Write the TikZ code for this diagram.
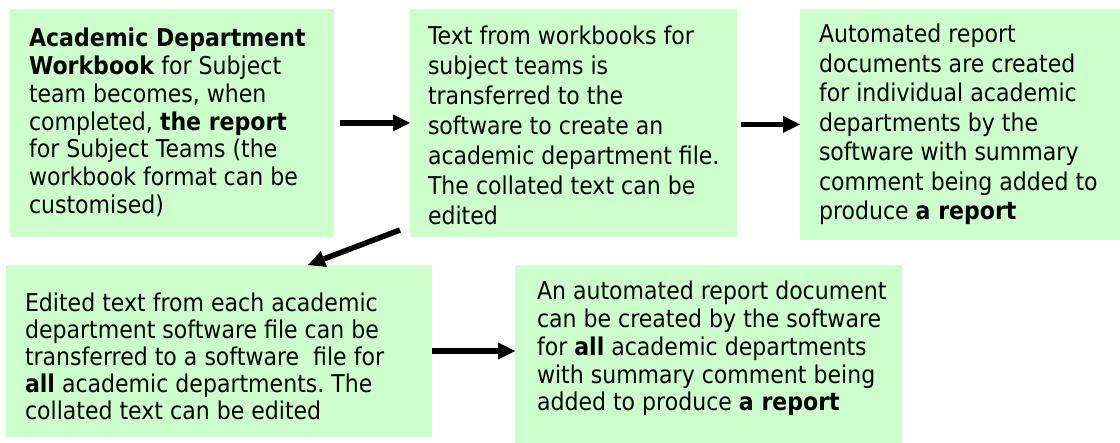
\documentclass[tikz,border=0pt]{standalone}
\usepackage{fontspec}
\setmainfont{DejaVu Sans}[FakeStretch=0.9]
\usetikzlibrary{arrows.meta,calc}
\definecolor{boxgreen}{RGB}{204,255,204}
\newcommand\fstrut{\rule{0pt}{22pt}}
\frenchspacing
\begin{document}
\begin{tikzpicture}[x=1pt,y=-1pt,
  gbox/.style={fill=boxgreen, draw=none, inner sep=0pt, outer sep=0pt, anchor=north west},
  txt/.style={inner sep=0pt, outer sep=0pt, anchor=north west, align=left, font=\fontsize{24.5}{27.7}\selectfont},
  wide/.style={font=\fontsize{24.5}{30}\selectfont},
  arr/.style={line width=5.5pt, -{Triangle[length=17pt,width=17pt,line width=0pt]}}]
\useasboundingbox (0,0) rectangle (1120,443);
% boxes
\node[gbox, minimum width=324pt, minimum height=228pt] (b1) at (10,9) {};
\node[gbox, minimum width=327pt, minimum height=228pt] (b2) at (410,9) {};
\node[gbox, minimum width=320pt, minimum height=231pt] (b3) at (800,9) {};
\node[gbox, minimum width=426pt, minimum height=172pt] (b4) at (6,265) {};
\node[gbox, minimum width=387pt, minimum height=178pt] (b5) at (515,265) {};
% texts
\node[txt] (t1) at (29,25) {\fstrut\textbf{Academic Department}\\\textbf{Workbook} for Subject\\team becomes, when\\completed, \textbf{the report}\\for Subject Teams (the\\workbook format can be\\customised)};
\node[txt, wide] (t2) at (428,23) {\fstrut Text from workbooks for\\subject teams is\\transferred to the\\software to create an\\academic department file.\\The collated text can be\\edited};
\node[txt, font=\fontsize{24.5}{29.5}\selectfont] (t3) at (819,21) {\fstrut Automated report\\documents are created\\for individual academic\\departments by the\\software with summary\\comment being added to\\produce \textbf{a report}};
\node[txt, font=\fontsize{24.5}{27}\selectfont] (t4) at (25,290) {\fstrut Edited text from each academic\\department software file can be\\transferred to a software~ file for\\\textbf{all} academic departments. The\\collated text can be edited};
\node[txt] (t5) at (537,278) {\fstrut An automated report document\\can be created by the software\\for \textbf{all} academic departments\\with summary comment being\\added to produce \textbf{a report}};
% connectors
\draw[arr, shorten <=6pt] (b1.east) -- (b2.west);
\draw[arr, shorten <=4pt] (b2.east |- b3.west) -- (b3.west);
\coordinate (d1) at ($(b2.south west)+(-10,-7)$);
\coordinate (d2) at ($(b4.north west)+(302,0)$);
\draw[arr] (d1) -- (d2);
\draw[arr] (b4.east) -- (b4.east -| b5.west);
\end{tikzpicture}
\end{document}
